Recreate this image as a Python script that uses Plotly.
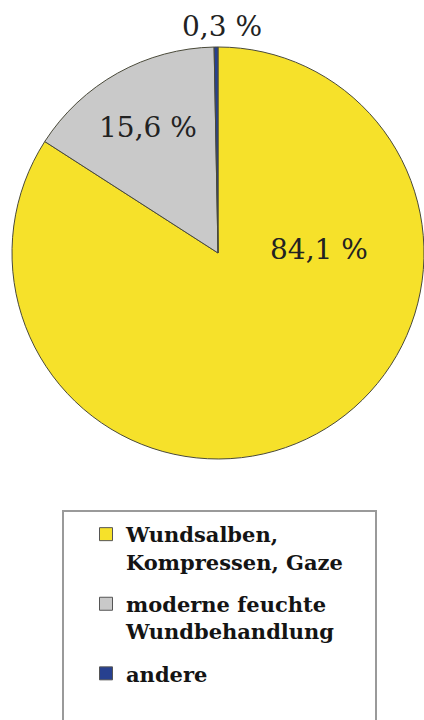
import plotly.graph_objects as go

labels = ["Wundsalben,<br>Kompressen, Gaze", "moderne feuchte<br>Wundbehandlung", "andere"]
values = [84.1, 15.6, 0.3]
value_texts = ["84,1 %", "15,6 %", "0,3 %"]
colors = ["#f6e12a", "#c9c9c9", "#27408f"]

W, H = 424, 720

fig = go.Figure()
fig.add_trace(go.Pie(
    labels=labels,
    values=values,
    sort=False,
    direction="clockwise",
    rotation=0,
    textinfo="none",
    hoverinfo="label+percent",
    showlegend=False,
    marker=dict(colors=colors, line=dict(color="#4a4a3a", width=1)),
    domain=dict(x=[12 / W, 1.0], y=[1 - 459 / H, 1 - 47 / H]),
))

# legend entries (one per slice, so that the gap between entries can be set)
for lab, col in zip(labels, colors):
    fig.add_trace(go.Scatter(
        x=[None], y=[None], mode="markers", name=lab, legendgroup=lab,
        marker=dict(symbol="square", size=13, color=col,
                    line=dict(color="#555555", width=1)),
        hoverinfo="skip",
    ))

label_pos = [(319, 249), (148, 127), (222, 27)]
for txt, (px, py) in zip(value_texts, label_pos):
    fig.add_annotation(
        x=px / W, y=1 - py / H, xref="paper", yref="paper",
        text=txt, showarrow=False, xanchor="center", yanchor="middle",
        font=dict(family="DejaVu Serif", size=28, color="#222222"),
    )

# legend frame
fig.add_shape(type="rect", xref="paper", yref="paper",
              x0=63 / W, x1=376 / W, y0=-0.05, y1=1 - 511 / H,
              line=dict(color="#9a9a9a", width=2), fillcolor="rgba(0,0,0,0)")

fig.update_layout(
    width=W, height=H,
    margin=dict(l=0, r=0, t=0, b=0),
    paper_bgcolor="white",
    plot_bgcolor="white",
    showlegend=True,
    xaxis=dict(visible=False),
    yaxis=dict(visible=False),
    legend=dict(
        x=86 / W, y=1 - 514 / H, xanchor="left", yanchor="top",
        font=dict(family="DejaVu Serif", size=21, color="#141414", weight="bold"),
        valign="top",
        traceorder="grouped",
        tracegroupgap=12,
        bgcolor="rgba(0,0,0,0)",
        borderwidth=0,
    ),
)

fig.write_html("out.html")
